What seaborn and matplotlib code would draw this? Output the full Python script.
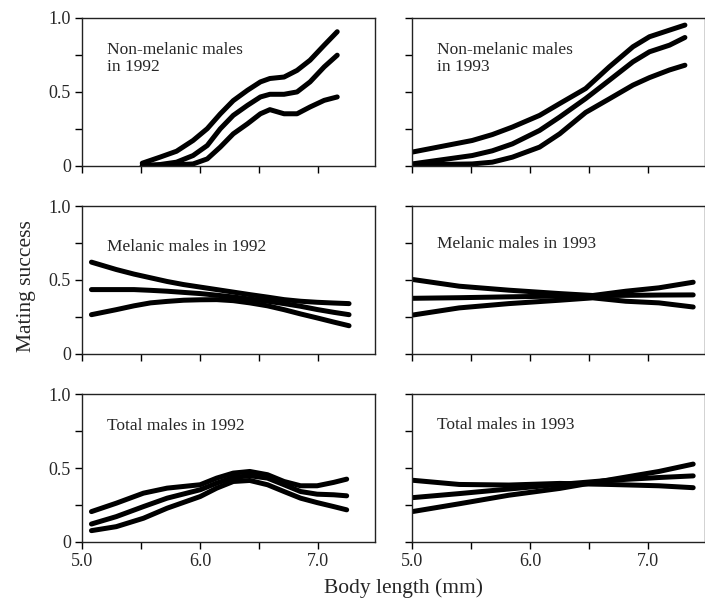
import matplotlib
matplotlib.use("Agg")
import matplotlib.pyplot as plt
import seaborn as sns

sns.set_theme(style="ticks")
plt.rcParams["font.family"] = ["Liberation Serif", "DejaVu Serif"]

# Non-melanic males 1992
nm92_x = [5.51, 5.66, 5.80, 5.94, 6.06, 6.17, 6.28, 6.40, 6.51, 6.59, 6.71, 6.82, 6.93, 7.05, 7.16]
nm92_upper = [0.016, 0.057, 0.097, 0.170, 0.25, 0.35, 0.44, 0.51, 0.567, 0.59, 0.60, 0.645, 0.714, 0.816, 0.907]
nm92_mid = [0.0, 0.007, 0.023, 0.068, 0.136, 0.249, 0.340, 0.408, 0.465, 0.483, 0.483, 0.499, 0.567, 0.669, 0.748]
nm92_lower = [0.0, 0.002, 0.005, 0.011, 0.045, 0.125, 0.215, 0.283, 0.351, 0.379, 0.351, 0.351, 0.397, 0.442, 0.465]

# Non-melanic males 1993
nm93_x = [5.0, 5.51, 5.68, 5.85, 6.08, 6.25, 6.47, 6.67, 6.87, 7.01, 7.18, 7.31]
nm93_upper = [0.091, 0.170, 0.21, 0.261, 0.340, 0.420, 0.522, 0.669, 0.805, 0.873, 0.918, 0.952]
nm93_mid = [0.011, 0.068, 0.10, 0.147, 0.238, 0.329, 0.454, 0.578, 0.703, 0.771, 0.816, 0.868]
nm93_lower = [0.005, 0.011, 0.023, 0.057, 0.125, 0.215, 0.36, 0.452, 0.545, 0.596, 0.648, 0.680]

# Melanic males 1992
m92_x = [5.08, 5.29, 5.44, 5.58, 5.72, 5.86, 6.0, 6.14, 6.28, 6.42, 6.57, 6.71, 6.85, 6.99, 7.13, 7.26]
m92_upper = [0.621, 0.571, 0.54, 0.515, 0.49, 0.469, 0.452, 0.435, 0.418, 0.401, 0.384, 0.367, 0.356, 0.349, 0.344, 0.340]
m92_mid = [0.435, 0.435, 0.435, 0.430, 0.424, 0.416, 0.408, 0.397, 0.385, 0.371, 0.356, 0.340, 0.322, 0.30, 0.281, 0.265]
m92_lower = [0.265, 0.299, 0.325, 0.345, 0.355, 0.363, 0.366, 0.367, 0.360, 0.345, 0.325, 0.299, 0.27, 0.243, 0.215, 0.190]

# Melanic males 1993
m93_x = [5.01, 5.40, 5.82, 6.25, 6.53, 6.81, 7.09, 7.38]
m93_upper = [0.503, 0.458, 0.431, 0.408, 0.395, 0.424, 0.447, 0.485]
m93_mid = [0.376, 0.380, 0.386, 0.391, 0.394, 0.396, 0.398, 0.399]
m93_lower = [0.263, 0.311, 0.340, 0.363, 0.379, 0.356, 0.345, 0.317]

# Total males 1992
t92_x = [5.08, 5.29, 5.52, 5.72, 6.0, 6.14, 6.28, 6.42, 6.57, 6.71, 6.85, 6.99, 7.13, 7.24]
t92_upper = [0.206, 0.263, 0.331, 0.365, 0.388, 0.433, 0.467, 0.478, 0.456, 0.410, 0.381, 0.381, 0.404, 0.426]
t92_mid = [0.122, 0.172, 0.240, 0.297, 0.354, 0.399, 0.438, 0.449, 0.433, 0.388, 0.342, 0.324, 0.320, 0.313]
t92_lower = [0.077, 0.104, 0.161, 0.229, 0.308, 0.365, 0.410, 0.417, 0.388, 0.342, 0.297, 0.267, 0.240, 0.218]

# Total males 1993
t93_x = [5.01, 5.40, 5.82, 6.25, 6.67, 7.09, 7.38]
t93_a = [0.418, 0.390, 0.386, 0.397, 0.390, 0.381, 0.368]
t93_b = [0.301, 0.328, 0.359, 0.390, 0.418, 0.437, 0.448]
t93_c = [0.207, 0.259, 0.317, 0.363, 0.421, 0.478, 0.528]

panels = [
    ("Non-melanic males\nin 1992", nm92_x, [nm92_upper, nm92_mid, nm92_lower]),
    ("Non-melanic males\nin 1993", nm93_x, [nm93_upper, nm93_mid, nm93_lower]),
    ("Melanic males in 1992", m92_x, [m92_upper, m92_mid, m92_lower]),
    ("Melanic males in 1993", m93_x, [m93_upper, m93_mid, m93_lower]),
    ("Total males in 1992", t92_x, [t92_upper, t92_mid, t92_lower]),
    ("Total males in 1993", t93_x, [t93_a, t93_b, t93_c]),
]
# vertical placement of each panel's caption (axes fraction)
label_y = [0.84, 0.84, 0.78, 0.80, 0.84, 0.845]

fig, axes = plt.subplots(3, 2, figsize=(7.05, 6.05), dpi=100, sharex=True, sharey=True)
fig.subplots_adjust(left=82/705, right=1.0, top=1-18/605, bottom=1-542/605,
                    wspace=0.126, hspace=0.2755)

for ax, (label, xs, lines), ly in zip(axes.flat, panels, label_y):
    for ys in lines:
        sns.lineplot(x=xs, y=ys, ax=ax, color="black", linewidth=3.6)
    ax.text(0.085, ly, label, transform=ax.transAxes, fontsize=12.5,
            va="top", ha="left", linespacing=1.15)
    ax.set_xlim(5.0, 7.48)
    ax.set_ylim(0, 1.0)
    ax.set_xticks([5.0, 5.5, 6.0, 6.5, 7.0])
    ax.set_xticklabels(["5.0", "", "6.0", "", "7.0"])
    ax.set_yticks([0, 0.25, 0.5, 0.75, 1.0])
    ax.set_yticklabels(["0", "", "0.5", "", "1.0"])
    ax.tick_params(direction="out", length=5, width=1, pad=3, labelsize=13, color="black")
    for sp in ax.spines.values():
        sp.set_linewidth(1.0)
        sp.set_color("#222222")
        sp.set_visible(True)

fig.text(26/705, 1-286/605, "Mating success", rotation=90, fontsize=15.5,
         ha="center", va="center")
fig.text(403/705, 1-588/605, "Body length (mm)", fontsize=15.5, ha="center", va="center")

fig.savefig("out.png", dpi=100)
